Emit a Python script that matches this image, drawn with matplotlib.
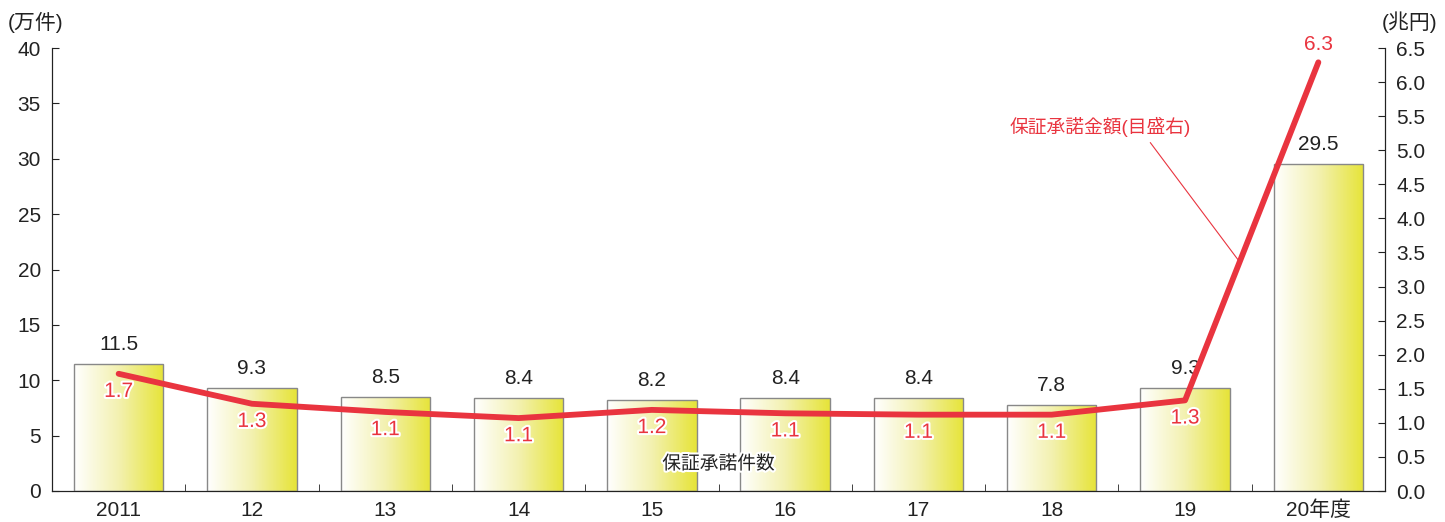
import matplotlib
matplotlib.use("Agg")
import matplotlib.pyplot as plt
import numpy as np
from matplotlib.patches import Rectangle
import matplotlib.patheffects as pe
from matplotlib.ticker import MultipleLocator, FixedLocator, FormatStrFormatter
from matplotlib.colors import LinearSegmentedColormap
from matplotlib import font_manager

names = {f.name for f in font_manager.fontManager.ttflist}
base = 'Liberation Sans Narrow' if 'Liberation Sans Narrow' in names else 'Liberation Sans'
plt.rcParams['font.family'] = [base, 'Noto Sans CJK JP', 'DejaVu Sans']

categories = ["2011", "12", "13", "14", "15", "16", "17", "18", "19", "20年度"]
counts = [11.5, 9.3, 8.5, 8.4, 8.2, 8.4, 8.4, 7.8, 9.3, 29.5]
amounts = [1.72, 1.28, 1.16, 1.07, 1.19, 1.14, 1.12, 1.12, 1.33, 6.29]
amount_labels = ["1.7", "1.3", "1.1", "1.1", "1.2", "1.1", "1.1", "1.1", "1.3", "6.3"]

RED = "#e9343f"
DARK = "#222222"
FS = 15
fig = plt.figure(figsize=(14.45, 5.22), dpi=100)
ax = fig.add_axes([52/1445, 1-491/522, (1385-52)/1445, (491-48)/522])
ax2 = ax.twinx()

x = np.arange(len(categories))
w = 0.67

cmap = LinearSegmentedColormap.from_list("g", ["#ffffff", "#f3f1b0", "#e6e438"])
grad = np.linspace(0, 1, 256).reshape(1, -1)
for xi, c in zip(x, counts):
    rect = Rectangle((xi - w/2, 0), w, c, facecolor="none", edgecolor="#888888", lw=1.0, zorder=3)
    ax.add_patch(rect)
    im = ax.imshow(grad, cmap=cmap, extent=(xi - w/2, xi + w/2, 0, c), aspect="auto", zorder=2)
    im.set_clip_path(rect)
    ax.text(xi, c + 0.9, f"{c:.1f}", ha="center", va="bottom", fontsize=FS, color=DARK, zorder=5)

ax.set_xlim(-0.5, len(categories) - 0.5)
ax.set_ylim(0, 40)
ax2.set_ylim(0, 6.5)

ax2.plot(x, amounts, color=RED, lw=4.2, solid_capstyle="round", zorder=4)
stroke = [pe.withStroke(linewidth=3, foreground="white")]
for i, (xi, a, lab) in enumerate(zip(x, amounts, amount_labels)):
    if i == len(x) - 1:
        ax2.text(xi, a + 0.12, lab, ha="center", va="bottom", fontsize=FS, color=RED, zorder=6)
    else:
        ax2.text(xi, a - 0.12, lab, ha="center", va="top", fontsize=FS, color=RED, zorder=6,
                 path_effects=stroke)

ax2.text(7.36, 5.2, "保証承諾金額(目盛右)", ha="center", va="bottom", fontsize=13.5, color=RED)
ax2.plot([7.74, 8.41], [5.11, 3.36], color=RED, lw=0.8)
ax.text(4.5, 2.4, "保証承諾件数", ha="center", va="center", fontsize=13.5, color=DARK, zorder=7,
        path_effects=[pe.withStroke(linewidth=3, foreground="white")])

for a in (ax, ax2):
    a.spines["top"].set_visible(False)
    for s in ("left", "right", "bottom"):
        a.spines[s].set_color(DARK)
ax.yaxis.set_major_locator(MultipleLocator(5))
ax2.yaxis.set_major_locator(MultipleLocator(0.5))
ax2.yaxis.set_major_formatter(FormatStrFormatter("%.1f"))
ax.tick_params(axis="y", direction="in", length=5, labelsize=FS, pad=8, colors=DARK)
ax2.tick_params(axis="y", direction="in", length=5, labelsize=FS, pad=8, colors=DARK)
ax.set_xticks(x)
ax.set_xticklabels(categories)
ax.tick_params(axis="x", length=0, labelsize=FS, pad=7, colors=DARK)
ax.xaxis.set_minor_locator(FixedLocator(x[:-1] + 0.5))
ax.tick_params(axis="x", which="minor", direction="in", length=5, color=DARK)

fig.text(8/1445, 1-22/522, "(万件)", ha="left", va="center", fontsize=FS, color=DARK)
fig.text(1437/1445, 1-22/522, "(兆円)", ha="right", va="center", fontsize=FS, color=DARK)

fig.savefig("out.png", dpi=100)
